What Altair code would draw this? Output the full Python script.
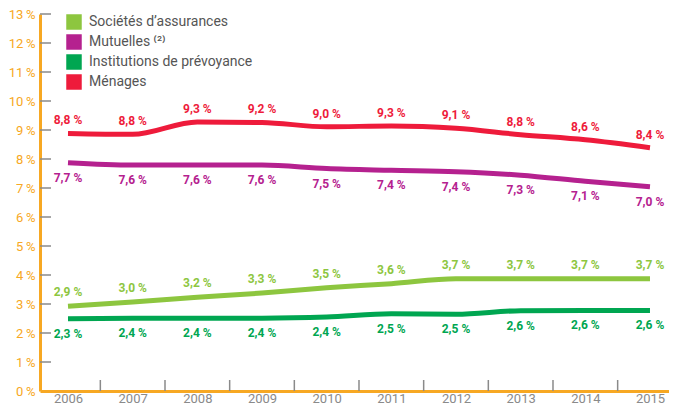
import altair as alt
import pandas as pd

years = [2006, 2007, 2008, 2009, 2010, 2011, 2012, 2013, 2014, 2015]
series_names = ["Sociétés d’assurances", "Mutuelles", "Institutions de prévoyance", "Ménages"]
colors = ["#8DC63F", "#B5218F", "#00A651", "#EE1B3B"]

societes = [2.92, 3.07, 3.23, 3.38, 3.56, 3.70, 3.87, 3.87, 3.87, 3.87]
societes_lbl = ["2,9 %", "3,0 %", "3,2 %", "3,3 %", "3,5 %", "3,6 %", "3,7 %", "3,7 %", "3,7 %", "3,7 %"]
mutuelles = [7.87, 7.79, 7.79, 7.79, 7.67, 7.61, 7.56, 7.44, 7.23, 7.04]
mutuelles_lbl = ["7,7 %", "7,6 %", "7,6 %", "7,6 %", "7,5 %", "7,4 %", "7,4 %", "7,3 %", "7,1 %", "7,0 %"]
institutions = [2.49, 2.51, 2.51, 2.51, 2.55, 2.66, 2.65, 2.77, 2.78, 2.78]
institutions_lbl = ["2,3 %", "2,4 %", "2,4 %", "2,4 %", "2,4 %", "2,5 %", "2,5 %", "2,6 %", "2,6 %", "2,6 %"]
menages = [8.88, 8.85, 9.28, 9.26, 9.11, 9.14, 9.06, 8.84, 8.66, 8.39]
menages_lbl = ["8,8 %", "8,8 %", "9,3 %", "9,2 %", "9,0 %", "9,3 %", "9,1 %", "8,8 %", "8,6 %", "8,4 %"]

y_ticks = list(range(0, 14))

FONT = "Roboto"
ORANGE = "#F7A823"
GRAY = "#8A8A8A"
W, H = 629, 377

rows = []
for name, vals, lbls in zip(series_names, [societes, mutuelles, institutions, menages],
                            [societes_lbl, mutuelles_lbl, institutions_lbl, menages_lbl]):
    for yr, v, l in zip(years, vals, lbls):
        rows.append({"year": yr, "value": v, "label": l, "series": name})
df = pd.DataFrame(rows)

xscale = alt.Scale(domain=[2005.567, 2015.294], nice=False, zero=False)
yscale = alt.Scale(domain=[0, 13], nice=False)

x_axis = alt.Axis(values=years, format="d", ticks=False, grid=False,
                  domainColor=ORANGE, domainWidth=3, labelColor=GRAY,
                  labelFont=FONT, labelFontSize=13, labelPadding=1,
                  labelOverlap=False, title=None)
y_axis = alt.Axis(values=y_ticks, labelExpr="datum.value + '\u2009%'", ticks=False,
                  grid=False, domainColor=ORANGE, domainWidth=3,
                  labelColor=ORANGE, labelFont=FONT, labelFontSize=13,
                  labelPadding=5, labelOverlap=False, labelFlush=False,
                  title=None)


def X(field):
    return alt.X(field, scale=xscale, axis=x_axis, title=None)


def Y(field):
    return alt.Y(field, scale=yscale, axis=y_axis, title=None)


base = alt.Chart(df)

color_scale = alt.Scale(domain=series_names, range=colors)

legend_pts = base.mark_point(shape="square", filled=True, size=0).encode(
    x=X("year:Q"), y=Y("value:Q"),
    fill=alt.Fill("series:N", scale=color_scale,
                  legend=alt.Legend(orient="none", legendX=26, legendY=0, title=None,
                                    symbolType="square", symbolSize=240, symbolStrokeWidth=0,
                                    symbolOpacity=1, labelLimit=400,
                                    labelFont=FONT, labelFontSize=14, labelColor="#555555",
                                    rowPadding=4, labelOffset=7,
                                    labelExpr="datum.label == 'Mutuelles' ? 'Mutuelles ⁽²⁾' : datum.label")),
)

lines = base.mark_line(strokeWidth=5, interpolate="monotone").encode(
    x=X("year:Q"), y=Y("value:Q"),
    stroke=alt.Stroke("series:N", scale=color_scale, legend=None),
    detail="series:N",
)

offsets = {"Sociétés d’assurances": -14, "Mutuelles": 15, "Institutions de prévoyance": 15, "Ménages": -13}
texts = []
for name, col in zip(series_names, colors):
    texts.append(
        base.transform_filter(alt.datum.series == name).mark_text(
            font=FONT, fontSize=12, fontWeight="bold", color=col, dy=offsets[name],
            baseline="middle", align="center"
        ).encode(x=X("year:Q"), y=Y("value:Q"), text="label:N")
    )

ytick_df = pd.DataFrame({"value": y_ticks[1:]})
ytick_rules = alt.Chart(ytick_df).mark_rule(color=GRAY, strokeWidth=1.5).encode(
    y=Y("value:Q"), x=alt.value(0), x2=alt.value(11)
)
xtick_df = pd.DataFrame({"year": [y + 0.5 for y in years[:-1]]})
xtick_rules = alt.Chart(xtick_df).mark_rule(color=GRAY, strokeWidth=1.5).encode(
    x=X("year:Q"), y=alt.value(H), y2=alt.value(H - 11)
)

chart = alt.layer(legend_pts, ytick_rules, xtick_rules, lines, *texts).resolve_legend(
    fill="independent", stroke="independent"
).properties(
    width=W, height=H,
    autosize=alt.AutoSizeParams(type="none"),
    padding={"left": 32, "top": 6, "right": 0, "bottom": 14},
    background="white",
).configure_view(stroke=None)

chart.save("out.html", embed_options={"renderer": "svg", "actions": False})
